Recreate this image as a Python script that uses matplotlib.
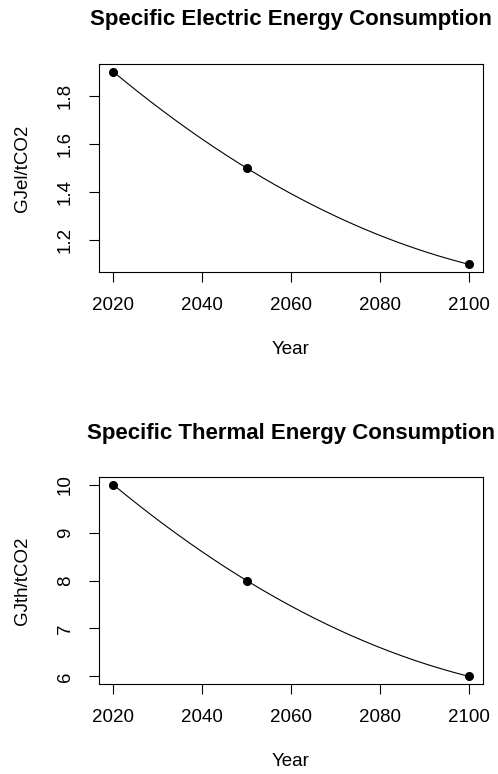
import matplotlib.pyplot as plt
import numpy as np

plt.rcParams['font.family'] = ['Liberation Sans', 'DejaVu Sans']

# Scenario anchor points
years = [2020, 2050, 2100]
electric = [1.9, 1.5, 1.1]   # GJel/tCO2
thermal = [10.0, 8.0, 6.0]   # GJth/tCO2

W, H = 498, 774
fig = plt.figure(figsize=(W / 100, H / 100), dpi=100)


def panel(top_px, bottom_px, title, title_y, ylabel, values, yticks):
    ax = fig.add_axes([99 / W, 1 - bottom_px / H, 384 / W, (bottom_px - top_px) / H])
    # smooth curve through the three anchors (quadratic, same as R's spline on 3 points)
    coef = np.polyfit(years, values, 2)
    xs = np.linspace(years[0], years[-1], 200)
    ax.plot(xs, np.polyval(coef, xs), color='black', lw=0.8)
    ax.plot(years, values, 'o', color='black', ms=5.5)

    # R-style 4% padding on both axes
    xr = years[-1] - years[0]
    ax.set_xlim(years[0] - 0.04 * xr, years[-1] + 0.04 * xr)
    yr = max(values) - min(values)
    ax.set_ylim(min(values) - 0.04 * yr, max(values) + 0.04 * yr)

    ax.set_xticks([2020, 2040, 2060, 2080, 2100])
    ax.set_yticks(yticks)
    ax.set_yticklabels([f"{t:g}" for t in yticks], rotation=90, va='center')
    ax.tick_params(length=7, width=0.8, labelsize=13.5, pad=11)
    for s in ax.spines.values():
        s.set_linewidth(0.8)

    fig.text(291 / W, 1 - title_y / H, title, ha='center', va='center',
             fontsize=16, fontweight='bold')
    fig.text(291 / W, 1 - (bottom_px + 78) / H, 'Year', ha='center', va='center',
             fontsize=13.5)
    fig.text(23 / W, 1 - (top_px + bottom_px) / 2 / H, ylabel, ha='center',
             va='center', rotation=90, fontsize=13.5)
    return ax


panel(64, 272, 'Specific Electric Energy Consumption', 20, 'GJel/tCO2',
      electric, [1.2, 1.4, 1.6, 1.8])
panel(477, 684, 'Specific Thermal Energy Consumption', 433, 'GJth/tCO2',
      thermal, [6, 7, 8, 9, 10])

fig.savefig('out.png', dpi=100)
